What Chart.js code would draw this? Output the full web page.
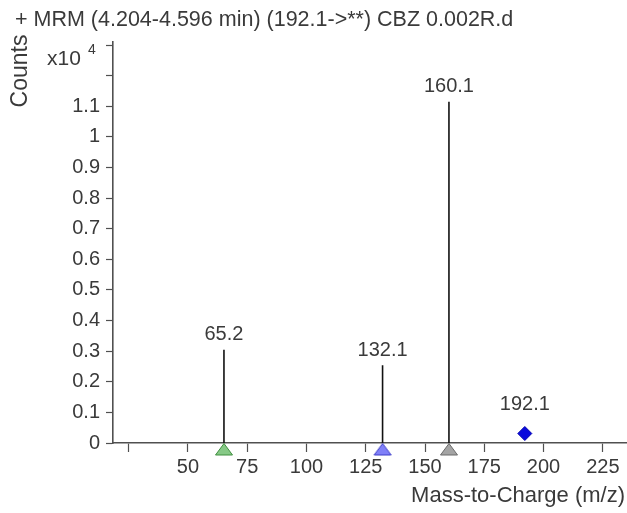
<!DOCTYPE html>
<html>
<head>
<meta charset="utf-8">
<script src="https://cdn.jsdelivr.net/npm/chart.js@4/dist/chart.umd.min.js"></script>
<style>
  html, body { margin: 0; padding: 0; background: #fff; }
  #wrap { width: 627px; height: 513px; position: relative; }
</style>
</head>
<body>
<div id="wrap"><canvas id="c" width="627" height="513"></canvas></div>
<script>
// ---- data (intensities in units of x10^4 counts) ----
const titleText = '+ MRM (4.204-4.596 min) (192.1->**) CBZ 0.002R.d';
const fragmentMz = [65.2, 132.1, 160.1];
const fragmentIntensity = [0.305, 0.254, 1.115];
const fragmentLabels = ['65.2', '132.1', '160.1'];
const precursorMz = [192.1];
const precursorIntensity = [0.031];
const precursorLabels = ['192.1'];
const xTickValues = [25, 50, 75, 100, 125, 150, 175, 200, 225];
const yTickValues = [0, 0.1, 0.2, 0.3, 0.4, 0.5, 0.6, 0.7, 0.8, 0.9, 1, 1.1, 1.2, 1.3];
const yLabelledMax = 1.1;
const xRange = [18.4, 235.2];
const yRange = [0, 1.31];

// ---- styles ----
const FONT = '"Liberation Sans", Arial, sans-serif';
const TEXT = '#3a3a3a';
const AXIS = '#505050';
const fragFill = ['#86c986', '#8080f8', '#a4a4a4'];
const fragEdge = ['#3f8f3f', '#3c3cc8', '#6a6a6a'];

function triangleCanvas(fill, edge) {
  const w = 20, h = 26;
  const cv = document.createElement('canvas');
  cv.width = w; cv.height = h;
  const g = cv.getContext('2d');
  g.beginPath();
  g.moveTo(w / 2, 13.5);
  g.lineTo(1.5, 25);
  g.lineTo(w - 1.5, 25);
  g.closePath();
  g.fillStyle = fill; g.fill();
  g.lineWidth = 1; g.strokeStyle = edge; g.stroke();
  return cv;
}

const datasets = [];
fragmentMz.forEach((mz, i) => {
  datasets.push({
    type: 'line',
    data: [{x: mz, y: 0}, {x: mz, y: fragmentIntensity[i]}],
    borderColor: '#111', borderWidth: 1.6, pointRadius: 0, clip: false,
    peakLabel: fragmentLabels[i], labelGap: 15
  });
});
fragmentMz.forEach((mz, i) => {
  datasets.push({
    type: 'scatter',
    data: [{x: mz, y: 0}],
    pointStyle: triangleCanvas(fragFill[i], fragEdge[i]),
    pointRadius: 10, clip: false
  });
});
datasets.push({
  type: 'scatter',
  data: precursorMz.map((m, i) => ({x: m, y: precursorIntensity[i]})),
  pointStyle: 'rectRot', pointRadius: 7,
  backgroundColor: '#0a0adc', borderColor: '#0000b0', borderWidth: 1,
  clip: false, peakLabels: precursorLabels, labelGap: 29
});

const fmt = v => String(Number(v.toFixed(1)));

const textPlugin = {
  id: 'texts',
  afterDatasetsDraw(chart) {
    const ctx = chart.ctx;
    const xs = chart.scales.x, ys = chart.scales.y;
    ctx.save();
    ctx.fillStyle = TEXT;
    ctx.font = '20px ' + FONT;
    ctx.textAlign = 'center'; ctx.textBaseline = 'middle';
    chart.data.datasets.forEach(ds => {
      if (ds.peakLabel) {
        const top = ds.data[1];
        ctx.fillText(ds.peakLabel, xs.getPixelForValue(top.x), ys.getPixelForValue(top.y) - ds.labelGap);
      }
      if (ds.peakLabels) {
        ds.data.forEach((p, i) => {
          ctx.fillText(ds.peakLabels[i], xs.getPixelForValue(p.x), ys.getPixelForValue(p.y) - ds.labelGap);
        });
      }
    });
    ctx.textAlign = 'left';
    ctx.font = '21.5px ' + FONT;
    ctx.fillText(titleText, 15, 20);
    ctx.font = '21px ' + FONT;
    ctx.fillText('x10', 47, 59);
    ctx.font = '14px ' + FONT;
    ctx.fillText('4', 88, 50);
    ctx.save();
    ctx.translate(21, 71);
    ctx.rotate(-Math.PI / 2);
    ctx.textAlign = 'center';
    ctx.font = '23px ' + FONT;
    ctx.fillText('Counts', 0, 0);
    ctx.restore();
    ctx.textAlign = 'right';
    ctx.font = '22px ' + FONT;
    ctx.fillText('Mass-to-Charge (m/z)', 625, 496);
    ctx.restore();
  }
};

new Chart(document.getElementById('c'), {
  type: 'scatter',
  data: { datasets },
  options: {
    responsive: false,
    animation: false,
    events: [],
    layout: { autoPadding: false, padding: { left: 0, right: 0, top: 42, bottom: 0 } },
    plugins: { legend: { display: false }, tooltip: { enabled: false }, title: { display: false } },
    scales: {
      x: {
        type: 'linear', min: xRange[0], max: xRange[1],
        afterFit: s => { s.height = 70; s.paddingLeft = 0; s.paddingRight = 0; },
        afterBuildTicks: s => { s.ticks = xTickValues.map(v => ({value: v})); },
        grid: { drawOnChartArea: false, drawTicks: true, tickLength: 9, tickColor: AXIS, tickWidth: 1.2 },
        border: { color: AXIS, width: 1.6 },
        ticks: {
          autoSkip: false, maxRotation: 0, padding: 3,
          color: TEXT, font: { family: FONT, size: 20 },
          callback: v => (v === 25 ? '' : String(v))
        }
      },
      y: {
        type: 'linear', min: yRange[0], max: yRange[1],
        afterFit: s => { s.width = 113; s.paddingTop = 0; s.paddingBottom = 0; },
        afterBuildTicks: s => { s.ticks = yTickValues.map(v => ({value: v})); },
        grid: { drawOnChartArea: false, drawTicks: true, tickLength: 7, tickColor: AXIS, tickWidth: 1.2 },
        border: { color: AXIS, width: 1.6 },
        ticks: {
          autoSkip: false, padding: 6,
          color: TEXT, font: { family: FONT, size: 20 },
          callback: v => (v > yLabelledMax + 1e-9 ? '' : fmt(v))
        }
      }
    }
  },
  plugins: [textPlugin]
});
</script>
</body>
</html>
